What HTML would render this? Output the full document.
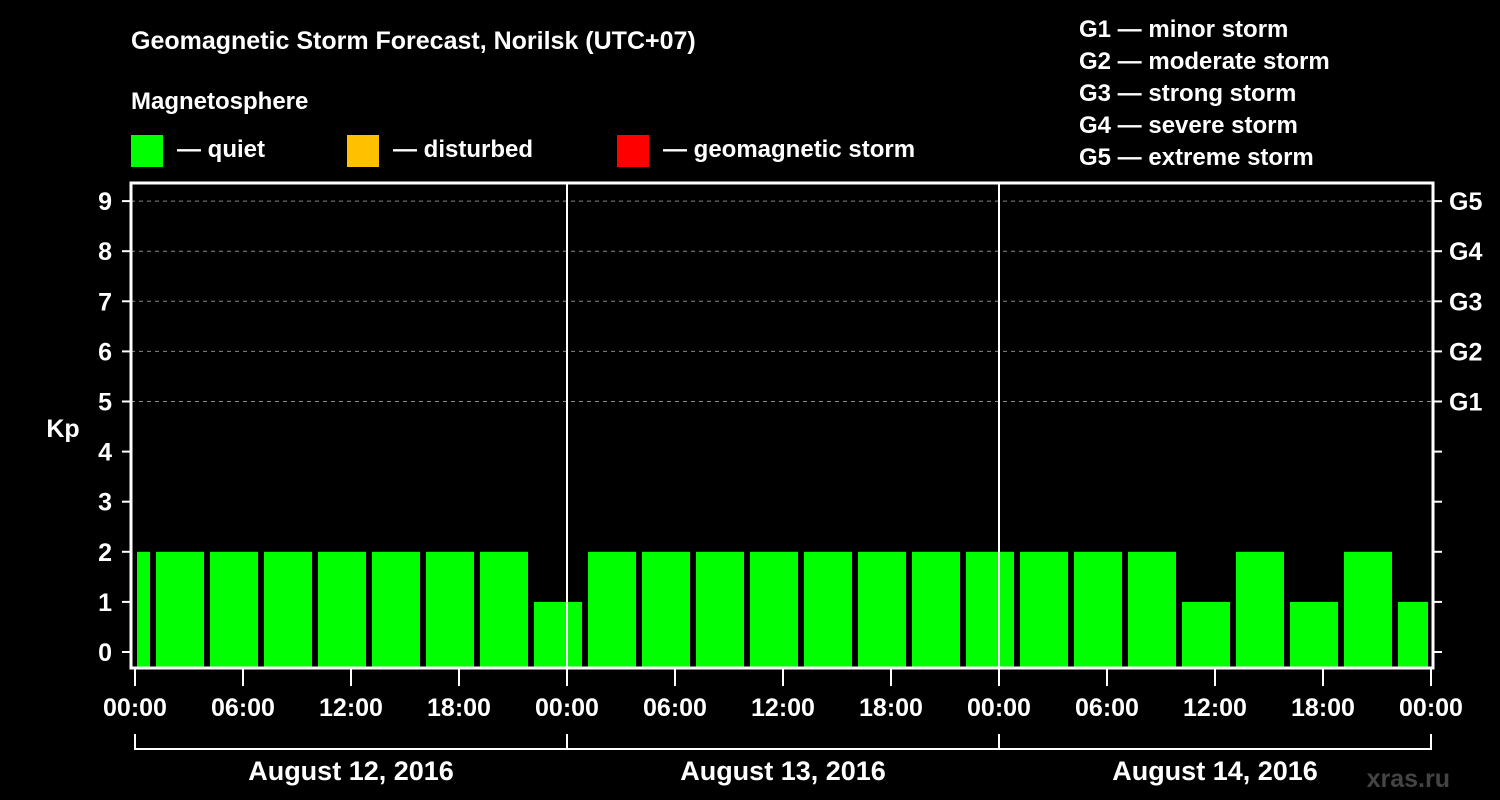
<!DOCTYPE html>
<html><head><meta charset="utf-8"><style>
html,body{margin:0;padding:0;background:#000;}
svg{display:block;font-family:"Liberation Sans",Arial,sans-serif;font-weight:bold;}
</style></head><body>
<svg id="chart" width="1500" height="800" viewBox="0 0 1500 800">
<rect width="1500" height="800" fill="#000"/>
<text x="131" y="49" fill="#fff" font-size="25">Geomagnetic Storm Forecast, Norilsk (UTC+07)</text>
<text x="131" y="109" fill="#fff" font-size="24">Magnetosphere</text>
<g><rect x="131" y="135" width="32" height="32" fill="#00ff00"/><text x="177" y="157" fill="#fff" font-size="24">— quiet</text></g>
<g><rect x="347" y="135" width="32" height="32" fill="#ffc000"/><text x="393" y="157" fill="#fff" font-size="24">— disturbed</text></g>
<g><rect x="617" y="135" width="32" height="32" fill="#ff0000"/><text x="663" y="157" fill="#fff" font-size="24">— geomagnetic storm</text></g>
<g fill="#fff" font-size="24">
<text x="1079" y="37">G1 — minor storm</text>
<text x="1079" y="69">G2 — moderate storm</text>
<text x="1079" y="101">G3 — strong storm</text>
<text x="1079" y="133">G4 — severe storm</text>
<text x="1079" y="165">G5 — extreme storm</text>
</g>
<text x="63" y="437" fill="#fff" font-size="25" text-anchor="middle">Kp</text>
<text x="1450" y="787" fill="#444" font-size="25" text-anchor="end">xras.ru</text>
<g id="grid"></g><g id="bars"></g><g id="axes"></g>
</svg>
<script>
const kpValues=[2,2,2,2,2,2,2,2,1,2,2,2,2,2,2,2,2,2,2,2,1,2,1,2,1];
const yTicks=[0,1,2,3,4,5,6,7,8,9];
const gLabels=["G1","G2","G3","G4","G5"];
const xTickLabels=["00:00","06:00","12:00","18:00","00:00","06:00","12:00","18:00","00:00","06:00","12:00","18:00","00:00"];
const dayLabels=["August 12, 2016","August 13, 2016","August 14, 2016"];
const NS="http://www.w3.org/2000/svg";
const L=131,R=1433,T=183,B=668,X0=135,HOUR=18;
const y=v=>652-v*50.1;
const x=h=>X0+h*HOUR;
function mk(tag,attrs,parent,txt){const e=document.createElementNS(NS,tag);for(const k in attrs)e.setAttribute(k,attrs[k]);if(txt!==undefined)e.textContent=txt;parent.appendChild(e);return e;}
const grid=document.getElementById('grid'),bars=document.getElementById('bars'),axes=document.getElementById('axes');
// grid lines
yTicks.forEach(v=>{if(v>=5){const g=mk('line',{x1:L,x2:R,y1:y(v),y2:y(v),stroke:'#888','stroke-dasharray':'4,4','stroke-width':1},grid);

}});
// bars: 3-hour windows starting at hour -2
kpValues.forEach((v,i)=>{let h0=-2+3*i,h1=h0+3;let x0=Math.max(x(h0)+3,x(0)+2),x1=Math.min(x(h1)-3,x(72)-3);
const col=v>=5?'#ff0000':(v>=4?'#ffc000':'#00ff00');
const b=mk('rect',{x:x0,y:y(v),width:x1-x0,height:B-y(v),fill:col},bars);

});
// day separators
[1,2].forEach(d=>{const l=mk('line',{x1:x(24*d),x2:x(24*d),y1:T,y2:B,stroke:'#fff','stroke-width':2},axes);

});
// frame
const fr=mk('rect',{x:L,y:T,width:R-L,height:B-T,fill:'none',stroke:'#fff','stroke-width':3},axes);


// y ticks
yTicks.forEach(v=>{mk('line',{x1:122,x2:L,y1:y(v),y2:y(v),stroke:'#fff','stroke-width':2},axes);
mk('line',{x1:R,x2:1442,y1:y(v),y2:y(v),stroke:'#fff','stroke-width':2},axes);
const t=mk('text',{x:112,y:y(v)+9,fill:'#fff','font-size':25,'text-anchor':'end'},axes,String(v));

});
gLabels.forEach((g,i)=>{const t=mk('text',{x:1449,y:y(5+i)+9,fill:'#fff','font-size':25},axes,g);

});
// x ticks
xTickLabels.forEach((s,i)=>{const xx=x(6*i);mk('line',{x1:xx,x2:xx,y1:B,y2:686,stroke:'#fff','stroke-width':2},axes);
const t=mk('text',{x:xx,y:716,fill:'#fff','font-size':25,'text-anchor':'middle'},axes,s);

});
// day bracket
mk('line',{x1:x(0),x2:x(72),y1:749,y2:749,stroke:'#fff','stroke-width':2},axes);
[0,1,2,3].forEach(d=>mk('line',{x1:x(24*d),x2:x(24*d),y1:734,y2:750,stroke:'#fff','stroke-width':2},axes));
dayLabels.forEach((s,i)=>{const t=mk('text',{x:x(24*i+12),y:780,fill:'#fff','font-size':27,'text-anchor':'middle'},axes,s);

});
</script>
</body></html>
